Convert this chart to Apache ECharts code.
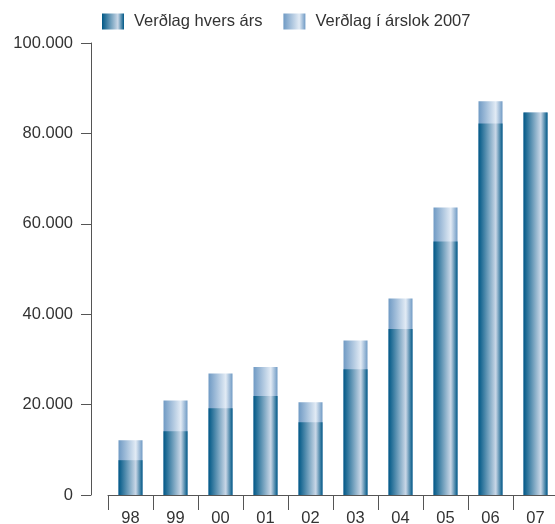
<!DOCTYPE html>
<html style="height: 100%">
<head>
<meta charset="utf-8">
</head>
<body style="margin: 0">
<div id="container" style="width: 555px; height: 524px;"></div>
<script type="text/javascript" src="https://cdn.jsdelivr.net/npm/echarts@6/dist/echarts.min.js"></script>
<script type="text/javascript">
// years (x axis)
var years = ['98', '99', '00', '01', '02', '03', '04', '05', '06', '07'];
// Verðlag hvers árs
var currentPrices = [7700, 14100, 19200, 21900, 16100, 27800, 36700, 56100, 82200, 84600];
// Verðlag í árslok 2007
var prices2007 = [12100, 20900, 26900, 28300, 20500, 34200, 43500, 63600, 87100, 84600];
var yTicks = [0, 20000, 40000, 60000, 80000, 100000];

var dom = document.getElementById('container');
var myChart = echarts.init(dom);

function barGrad(edge, mid) {
    return new echarts.graphic.LinearGradient(0, 0, 1, 0, [
        { offset: 0, color: edge },
        { offset: 0.72, color: mid },
        { offset: 1, color: edge }
    ]);
}

function fmt(v) {
    return String(v).replace(/\B(?=(\d{3})+(?!\d))/g, '.');
}

var option = {
    animation: false,
    textStyle: { fontFamily: 'Liberation Sans, Arial, sans-serif' },
    legend: {
        data: ['Verðlag hvers árs', 'Verðlag í árslok 2007'],
        left: 102,
        top: 13,
        padding: 0,
        itemWidth: 22,
        itemHeight: 16,
        itemGap: 21,
        icon: 'rect',
        textStyle: { fontSize: 16.5, color: '#333', padding: [0, 0, 0, 5] }
    },
    grid: { left: 108, right: -3, top: 43, bottom: 29, containLabel: false, outerBoundsMode: 'none' },
    xAxis: {
        type: 'category',
        data: years,
        axisLine: { lineStyle: { color: '#555', width: 1 } },
        axisTick: { show: true, length: 15, alignWithLabel: false, lineStyle: { color: '#555' } },
        axisLabel: { fontSize: 16.5, color: '#333', margin: 15 }
    },
    yAxis: {
        type: 'value',
        min: yTicks[0],
        max: yTicks[yTicks.length - 1],
        interval: 20000,
        offset: 17,
        splitLine: { show: false },
        axisLine: { show: true, lineStyle: { color: '#555', width: 1 } },
        axisTick: { show: true, length: 10, lineStyle: { color: '#555' } },
        axisLabel: { fontSize: 16.5, color: '#333', margin: 18, formatter: fmt }
    },
    series: [
        {
            name: 'Verðlag í árslok 2007',
            type: 'bar',
            data: prices2007,
            barWidth: 24,
            barGap: '-100%',
            itemStyle: { color: barGrad('#6f9ac4', '#e2ebf5') }
        },
        {
            name: 'Verðlag hvers árs',
            type: 'bar',
            data: currentPrices,
            barWidth: 24,
            itemStyle: { color: barGrad('#005886', '#c9d7e7') }
        }
    ]
};

myChart.setOption(option);
</script>
</body>
</html>
